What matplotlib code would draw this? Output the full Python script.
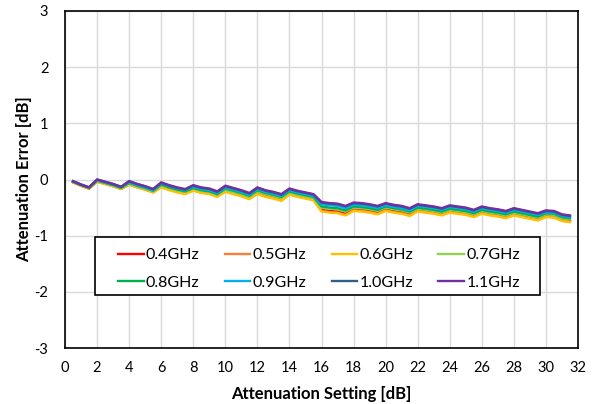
import numpy as np
import matplotlib
matplotlib.use("Agg")
import matplotlib.pyplot as plt
from matplotlib.patches import Rectangle

# attenuation setting steps, 0.5 dB LSB
setting = np.arange(0.5, 32.0, 0.5)

labels = ["0.4GHz", "0.5GHz", "0.6GHz", "0.7GHz", "0.8GHz", "0.9GHz", "1.0GHz", "1.1GHz"]
colors = ["#FF0000", "#F4803C", "#FFC000", "#92D050", "#00B050", "#00B0F0", "#2F5F8F", "#7030A0"]

err_04 = [-0.05, -0.11, -0.16,
          -0.03, -0.07, -0.11, -0.16, -0.08, -0.13, -0.17, -0.22, -0.12, -0.17, -0.21, -0.24,
          -0.18, -0.22, -0.24, -0.29, -0.20, -0.24, -0.28, -0.33, -0.24, -0.29, -0.32, -0.36,
          -0.25, -0.29, -0.32, -0.35, -0.54, -0.56, -0.57, -0.61, -0.53, -0.54, -0.56, -0.59,
          -0.53, -0.56, -0.58, -0.62, -0.54, -0.56, -0.58, -0.61, -0.56, -0.58, -0.60, -0.64,
          -0.58, -0.61, -0.63, -0.66, -0.61, -0.64, -0.67, -0.70, -0.65, -0.66, -0.72, -0.74]
err_05 = [-0.05, -0.11, -0.16,
          -0.04, -0.08, -0.12, -0.17, -0.09, -0.14, -0.18, -0.23, -0.13, -0.18, -0.22, -0.25,
          -0.19, -0.23, -0.25, -0.30, -0.21, -0.25, -0.29, -0.34, -0.25, -0.30, -0.33, -0.37,
          -0.26, -0.30, -0.33, -0.36, -0.56, -0.58, -0.59, -0.63, -0.55, -0.56, -0.58, -0.61,
          -0.55, -0.58, -0.60, -0.64, -0.56, -0.58, -0.60, -0.63, -0.58, -0.60, -0.62, -0.66,
          -0.60, -0.63, -0.65, -0.68, -0.63, -0.66, -0.69, -0.72, -0.66, -0.67, -0.73, -0.75]
err_06 = [-0.05, -0.11, -0.16,
          -0.04, -0.08, -0.12, -0.17, -0.09, -0.14, -0.18, -0.23, -0.14, -0.19, -0.23, -0.26,
          -0.20, -0.24, -0.26, -0.31, -0.22, -0.26, -0.30, -0.35, -0.26, -0.31, -0.34, -0.38,
          -0.27, -0.31, -0.34, -0.37, -0.57, -0.59, -0.60, -0.64, -0.56, -0.57, -0.59, -0.62,
          -0.56, -0.59, -0.61, -0.65, -0.57, -0.59, -0.61, -0.64, -0.59, -0.61, -0.63, -0.67,
          -0.61, -0.64, -0.66, -0.69, -0.64, -0.67, -0.70, -0.73, -0.67, -0.68, -0.74, -0.76]
err_07 = [-0.04, -0.10, -0.15,
          -0.02, -0.06, -0.10, -0.15, -0.07, -0.12, -0.16, -0.21, -0.10, -0.15, -0.19, -0.22,
          -0.16, -0.20, -0.22, -0.27, -0.18, -0.22, -0.26, -0.31, -0.21, -0.26, -0.29, -0.33,
          -0.23, -0.27, -0.30, -0.33, -0.50, -0.52, -0.53, -0.57, -0.50, -0.51, -0.53, -0.56,
          -0.50, -0.53, -0.55, -0.59, -0.52, -0.54, -0.56, -0.59, -0.54, -0.56, -0.58, -0.62,
          -0.56, -0.59, -0.61, -0.64, -0.59, -0.62, -0.65, -0.68, -0.62, -0.63, -0.69, -0.71]
err_08 = [-0.04, -0.10, -0.15,
          -0.02, -0.06, -0.10, -0.15, -0.06, -0.11, -0.15, -0.20, -0.09, -0.14, -0.18, -0.21,
          -0.15, -0.19, -0.21, -0.26, -0.16, -0.20, -0.24, -0.29, -0.19, -0.24, -0.27, -0.31,
          -0.21, -0.25, -0.28, -0.31, -0.48, -0.50, -0.51, -0.55, -0.48, -0.49, -0.51, -0.54,
          -0.48, -0.51, -0.53, -0.57, -0.50, -0.52, -0.54, -0.57, -0.52, -0.54, -0.56, -0.60,
          -0.54, -0.57, -0.59, -0.62, -0.57, -0.60, -0.63, -0.66, -0.60, -0.61, -0.67, -0.69]
err_09 = [-0.03, -0.09, -0.14,
          -0.01, -0.05, -0.09, -0.14, -0.05, -0.10, -0.14, -0.19, -0.07, -0.12, -0.16, -0.19,
          -0.13, -0.17, -0.19, -0.24, -0.14, -0.18, -0.22, -0.27, -0.17, -0.22, -0.25, -0.29,
          -0.19, -0.23, -0.26, -0.29, -0.44, -0.46, -0.47, -0.51, -0.45, -0.46, -0.48, -0.51,
          -0.46, -0.49, -0.51, -0.55, -0.47, -0.49, -0.51, -0.54, -0.49, -0.51, -0.53, -0.57,
          -0.51, -0.54, -0.56, -0.59, -0.54, -0.57, -0.60, -0.63, -0.58, -0.59, -0.65, -0.67]
err_10 = [-0.03, -0.09, -0.14,
          0.00, -0.04, -0.08, -0.13, -0.03, -0.08, -0.12, -0.17, -0.06, -0.11, -0.15, -0.18,
          -0.11, -0.15, -0.17, -0.22, -0.12, -0.16, -0.20, -0.25, -0.15, -0.20, -0.23, -0.27,
          -0.17, -0.21, -0.24, -0.27, -0.41, -0.43, -0.44, -0.48, -0.42, -0.43, -0.45, -0.48,
          -0.43, -0.46, -0.48, -0.52, -0.45, -0.47, -0.49, -0.52, -0.47, -0.49, -0.51, -0.55,
          -0.49, -0.52, -0.54, -0.57, -0.52, -0.55, -0.58, -0.61, -0.56, -0.57, -0.63, -0.65]
err_11 = [-0.03, -0.09, -0.14,
          0.00, -0.04, -0.08, -0.13, -0.03, -0.08, -0.12, -0.17, -0.05, -0.10, -0.14, -0.17,
          -0.10, -0.14, -0.16, -0.21, -0.11, -0.15, -0.19, -0.24, -0.14, -0.19, -0.22, -0.26,
          -0.16, -0.20, -0.23, -0.26, -0.40, -0.42, -0.43, -0.47, -0.41, -0.42, -0.44, -0.47,
          -0.42, -0.45, -0.47, -0.51, -0.44, -0.46, -0.48, -0.51, -0.46, -0.48, -0.50, -0.54,
          -0.48, -0.51, -0.53, -0.56, -0.51, -0.54, -0.57, -0.60, -0.55, -0.56, -0.62, -0.64]

series = [err_04, err_05, err_06, err_07, err_08, err_09, err_10, err_11]

plt.rcParams['font.family'] = ['Lato', 'DejaVu Sans']
plt.rcParams['axes.unicode_minus'] = False

fig = plt.figure(figsize=(5.96, 4.04), dpi=100)
ax = fig.add_axes([65 / 596, 1 - 348 / 404, 513 / 596, 337 / 404])

lines = []
for vals, lab, col in zip(series, labels, colors):
    ln, = ax.plot(setting, vals, color=col, linewidth=1.7, label=lab)
    lines.append(ln)

ax.set_xlim(0, 32)
ax.set_ylim(-3, 3)
ax.set_xticks(np.arange(0, 33, 2))
ax.set_yticks(np.arange(-3, 4, 1))
ax.grid(True, color="#D9D9D9", linewidth=1.0)
ax.set_axisbelow(True)
ax.tick_params(length=0, labelsize=10.5, colors="#000000")
ax.tick_params(axis="x", pad=9)
ax.tick_params(axis="y", pad=12)
for sp in ax.spines.values():
    sp.set_color("#000000")
    sp.set_linewidth(1.2)

ax.set_xlabel("Attenuation Setting [dB]", fontsize=12, fontweight="bold", labelpad=8)
ax.set_ylabel("Attenuation Error [dB]", fontsize=12, fontweight="bold", labelpad=2)

# legend box drawn separately so the entries can sit inset from the frame
box = Rectangle((0.0585, 0.1573), 0.8674, 0.1721, transform=ax.transAxes,
                facecolor="white", edgecolor="black", linewidth=1.2, zorder=4)
ax.add_patch(box)

# two rows of four, filled row by row
order = [0, 4, 1, 5, 2, 6, 3, 7]
leg = ax.legend([lines[i] for i in order], [labels[i] for i in order],
                ncol=4, loc="upper left", mode="expand",
                bbox_to_anchor=(0.1033, 0.296, 0.7836, 0.0), borderaxespad=0,
                frameon=False, fontsize=11.5,
                handlelength=1.6, handletextpad=0.15, borderpad=0,
                labelspacing=0.82)
leg.set_zorder(5)

fig.savefig("out.png", dpi=100)
